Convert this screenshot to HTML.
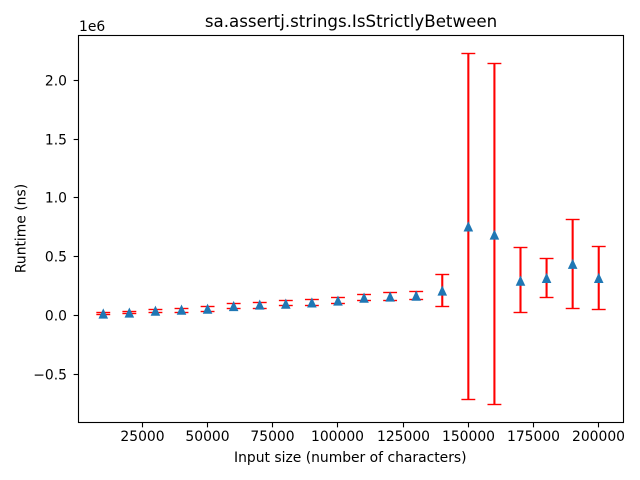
<!DOCTYPE html>
<html>
<head>
<meta charset="utf-8">
<style>
html,body{margin:0;padding:0;background:#fff;width:640px;height:480px;overflow:hidden}
svg{display:block}
text{font-family:"DejaVu Sans","Liberation Sans",sans-serif;fill:#000}
</style>
</head>
<body>
<svg id="chart" width="640" height="480" viewBox="0 0 640 480" xmlns="http://www.w3.org/2000/svg">
  <rect x="0" y="0" width="640" height="480" fill="#fff"/>
  <g id="errorbars"></g>
  <g id="markers"></g>
  <g id="xticks"></g>
  <g id="yticks"></g>
  <rect x="78.5" y="35.5" width="545" height="387" fill="none" stroke="#000" stroke-width="1.11"/>
  <text x="351" y="27" text-anchor="middle" font-size="16.67px">sa.assertj.strings.IsStrictlyBetween</text>
  <text x="350.3" y="462" text-anchor="middle" font-size="13.89px">Input size (number of characters)</text>
  <text transform="translate(25.5 228.5) rotate(-90)" text-anchor="middle" font-size="13.89px">Runtime (ns)</text>
  <text x="79" y="31" font-size="13.89px">1e6</text>
</svg>
<script>
const inputSizes = [10000,20000,30000,40000,50000,60000,70000,80000,90000,100000,110000,120000,130000,140000,150000,160000,170000,180000,190000,200000];
const meanRuntimes = [14000,22000,38000,47000,55000,78000,90000,98000,108000,124000,149000,158000,166000,209000,756000,686000,294000,317000,437000,317000];
const upperRuntimes = [27000,37000,54000,62000,79000,105000,111000,125000,136000,153000,179000,196000,205000,347000,2234000,2148000,577000,483000,816000,586000];
const lowerRuntimes = [6000,20000,26000,28000,34000,62000,62000,85000,85000,100000,130000,125000,134000,74000,-719000,-762000,23000,151000,57000,51000];
const xTickValues = [25000,50000,75000,100000,125000,150000,175000,200000];
const yTickValues = [-500000,0,500000,1000000,1500000,2000000];
const yTickLabels = ["\u22120.5","0.0","0.5","1.0","1.5","2.0"];

const NS = "http://www.w3.org/2000/svg";
const plotLeft = 78.5, plotRight = 623.5, plotTop = 35.5, plotBottom = 422.5;
const xMin = 500, xMax = 209500, yMin = -911800, yMax = 2383800;
const markerHalf = 4.8;
function xScale(v){ return plotLeft + (v - xMin) / (xMax - xMin) * (plotRight - plotLeft); }
function yScale(v){ return plotBottom - (v - yMin) / (yMax - yMin) * (plotBottom - plotTop); }
function snap(p){ return Math.round(p - 0.5) + 0.5; }
function line(parent, x1, y1, x2, y2, stroke, width){
  const el = document.createElementNS(NS, "line");
  el.setAttribute("x1", x1);
  el.setAttribute("y1", y1);
  el.setAttribute("x2", x2);
  el.setAttribute("y2", y2);
  el.setAttribute("stroke", stroke);
  el.setAttribute("stroke-width", width);
  parent.appendChild(el);
  return el;
}

const barsGroup = document.getElementById("errorbars");
const markerGroup = document.getElementById("markers");
inputSizes.forEach(function(size, i){
  const cx = xScale(size);
  const top = yScale(upperRuntimes[i]);
  const bottom = yScale(lowerRuntimes[i]);
  const stem = line(barsGroup, cx, top, cx, bottom, "#ff0000", 2.08);
  
  
  const capUpper = line(barsGroup, cx - 6.94, snap(top), cx + 6.94, snap(top), "#ff0000", 1.39);
  
  
  const capLower = line(barsGroup, cx - 6.94, snap(bottom), cx + 6.94, snap(bottom), "#ff0000", 1.39);
  
  
  const cy = yScale(meanRuntimes[i]);
  const tri = document.createElementNS(NS, "polygon");
  tri.setAttribute("points", cx + "," + (cy - markerHalf - 0.6) + " " + (cx - markerHalf) + "," + (cy + markerHalf) + " " + (cx + markerHalf) + "," + (cy + markerHalf));
  tri.setAttribute("fill", "#1f77b4");
  
  
  markerGroup.appendChild(tri);
});

const xTickGroup = document.getElementById("xticks");
xTickValues.forEach(function(v){
  const px = snap(xScale(v));
  const tick = line(xTickGroup, px, plotBottom, px, plotBottom + 4.86, "#000", 1.11);
  
  
  const label = document.createElementNS(NS, "text");
  label.setAttribute("x", px);
  label.setAttribute("y", 441);
  label.setAttribute("text-anchor", "middle");
  label.setAttribute("font-size", "13.89px");
  label.textContent = String(v);
  
  
  xTickGroup.appendChild(label);
});

const yTickGroup = document.getElementById("yticks");
yTickValues.forEach(function(v, i){
  const py = snap(yScale(v));
  const tick = line(yTickGroup, plotLeft - 4.86, py, plotLeft, py, "#000", 1.11);
  
  
  const label = document.createElementNS(NS, "text");
  label.setAttribute("x", 67);
  label.setAttribute("y", py + 5);
  label.setAttribute("text-anchor", "end");
  label.setAttribute("font-size", "13.89px");
  label.textContent = yTickLabels[i];
  
  
  yTickGroup.appendChild(label);
});
</script>
</body>
</html>
